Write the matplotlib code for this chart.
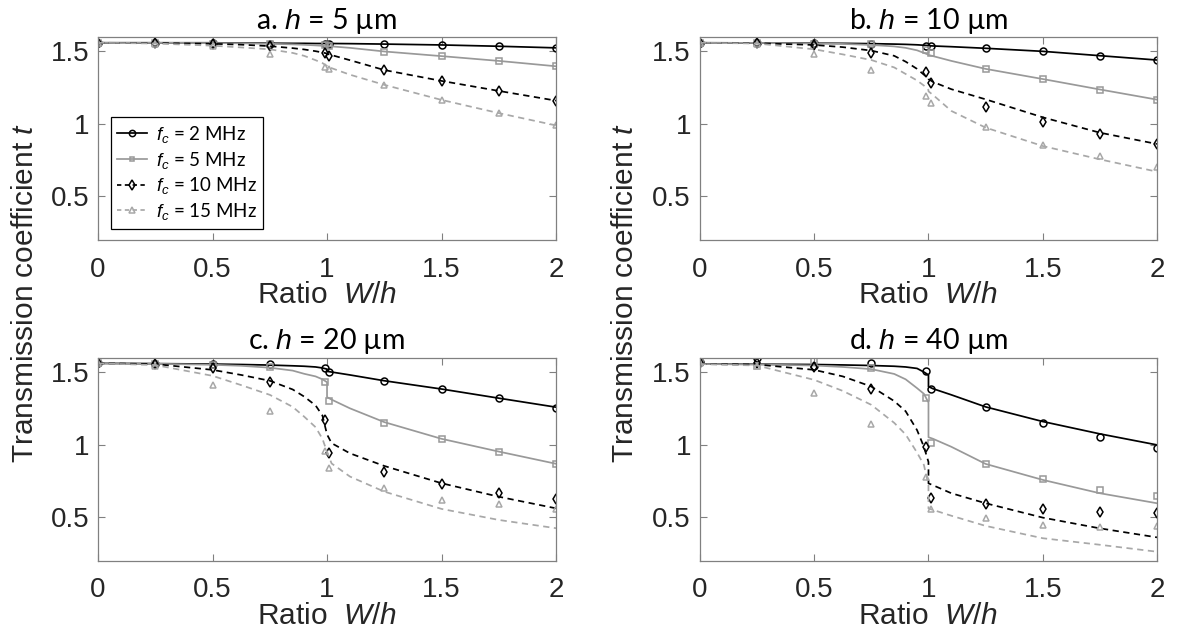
import numpy as np
import matplotlib
matplotlib.use('Agg')
import matplotlib.pyplot as plt
from matplotlib.lines import Line2D

plt.rcParams['font.family'] = ['Liberation Sans', 'DejaVu Sans']
plt.rcParams['mathtext.fontset'] = 'custom'
plt.rcParams['mathtext.it'] = 'Liberation Sans:italic'
plt.rcParams['mathtext.rm'] = 'Liberation Sans'

# x grid of the model curves (1.0 twice: left / right of the step)
model_x = [0, 0.25, 0.5, 0.625, 0.75, 0.85, 0.9, 0.95, 0.98, 1.0, 1.0, 1.02, 1.1, 1.25, 1.5, 1.75, 2.0]
# x of the measured points
data_x = [0, 0.25, 0.5, 0.75, 0.99, 1.01, 1.25, 1.5, 1.75, 2.0]

freqs = ['2', '5', '10', '15']
titles = ['a. $h$ = 5 µm', 'b. $h$ = 10 µm', 'c. $h$ = 20 µm', 'd. $h$ = 40 µm']

# panel a, h = 5 um
model_a = [
    [1.56, 1.56, 1.56, 1.558, 1.557, 1.556, 1.556, 1.555, 1.555, 1.555, 1.555, 1.555, 1.554, 1.551, 1.545, 1.536, 1.525],
    [1.56, 1.56, 1.558, 1.556, 1.553, 1.549, 1.546, 1.542, 1.539, 1.537, 1.537, 1.535, 1.525, 1.50, 1.468, 1.435, 1.398],
    [1.56, 1.558, 1.553, 1.547, 1.537, 1.523, 1.514, 1.502, 1.493, 1.486, 1.484, 1.475, 1.44, 1.372, 1.297, 1.228, 1.161],
    [1.56, 1.555, 1.54, 1.528, 1.515, 1.49, 1.47, 1.44, 1.42, 1.40, 1.395, 1.385, 1.34, 1.27, 1.166, 1.075, 0.99],
]
data_a = [
    [1.56, 1.56, 1.56, 1.555, 1.555, 1.555, 1.552, 1.547, 1.536, 1.526],
    [1.56, 1.56, 1.555, 1.55, 1.545, 1.54, 1.499, 1.469, 1.437, 1.398],
    [1.56, 1.558, 1.555, 1.540, 1.487, 1.471, 1.372, 1.299, 1.230, 1.161],
    [1.56, 1.555, 1.54, 1.483, 1.395, 1.379, 1.269, 1.166, 1.074, 0.991],
]

# panel b, h = 10 um
model_b = [
    [1.56, 1.559, 1.557, 1.556, 1.554, 1.551, 1.549, 1.546, 1.543, 1.541, 1.540, 1.538, 1.533, 1.522, 1.501, 1.471, 1.441],
    [1.56, 1.559, 1.555, 1.552, 1.545, 1.535, 1.525, 1.508, 1.49, 1.478, 1.476, 1.468, 1.435, 1.38, 1.31, 1.238, 1.168],
    [1.56, 1.557, 1.545, 1.53, 1.506, 1.47, 1.43, 1.38, 1.34, 1.315, 1.31, 1.29, 1.24, 1.17, 1.046, 0.94, 0.862],
    [1.56, 1.555, 1.515, 1.48, 1.441, 1.39, 1.345, 1.30, 1.265, 1.234, 1.225, 1.20, 1.09, 0.975, 0.848, 0.756, 0.671],
]
data_b = [
    [1.56, 1.558, 1.556, 1.553, 1.540, 1.540, 1.522, 1.501, 1.471, 1.441],
    [1.56, 1.557, 1.555, 1.550, 1.51, 1.487, 1.379, 1.310, 1.237, 1.168],
    [1.56, 1.558, 1.545, 1.492, 1.359, 1.285, 1.117, 1.014, 0.931, 0.860],
    [1.56, 1.555, 1.483, 1.372, 1.191, 1.143, 0.981, 0.857, 0.779, 0.706],
]

# panel c, h = 20 um
model_c = [
    [1.56, 1.558, 1.555, 1.552, 1.548, 1.543, 1.540, 1.535, 1.528, 1.52, 1.505, 1.500, 1.48, 1.44, 1.383, 1.32, 1.258],
    [1.56, 1.557, 1.55, 1.543, 1.53, 1.51, 1.488, 1.47, 1.45, 1.43, 1.327, 1.31, 1.25, 1.155, 1.04, 0.952, 0.868],
    [1.56, 1.555, 1.515, 1.48, 1.44, 1.38, 1.331, 1.27, 1.20, 1.07, 1.07, 1.01, 0.94, 0.853, 0.734, 0.641, 0.561],
    [1.56, 1.548, 1.474, 1.41, 1.343, 1.26, 1.193, 1.12, 1.04, 0.95, 0.95, 0.87, 0.78, 0.676, 0.557, 0.481, 0.424],
]
data_c = [
    [1.56, 1.558, 1.556, 1.554, 1.531, 1.503, 1.441, 1.384, 1.32, 1.255],
    [1.56, 1.557, 1.55, 1.538, 1.434, 1.303, 1.152, 1.039, 0.950, 0.867],
    [1.56, 1.556, 1.527, 1.428, 1.170, 0.945, 0.814, 0.729, 0.665, 0.626],
    [1.56, 1.543, 1.412, 1.230, 0.959, 0.837, 0.703, 0.619, 0.591, 0.557],
]

# panel d, h = 40 um
model_d = [
    [1.555, 1.554, 1.552, 1.549, 1.545, 1.540, 1.535, 1.525, 1.50, 1.48, 1.40, 1.385, 1.343, 1.26, 1.159, 1.074, 0.998],
    [1.555, 1.552, 1.545, 1.535, 1.52, 1.487, 1.45, 1.389, 1.35, 1.29, 1.051, 1.04, 0.985, 0.867, 0.757, 0.665, 0.596],
    [1.555, 1.552, 1.515, 1.47, 1.40, 1.30, 1.23, 1.10, 0.985, 0.88, 0.733, 0.72, 0.665, 0.596, 0.497, 0.423, 0.361],
    [1.555, 1.545, 1.446, 1.37, 1.274, 1.15, 1.07, 0.945, 0.86, 0.72, 0.56, 0.55, 0.51, 0.44, 0.355, 0.31, 0.262],
]
data_d = [
    [1.57, 1.596, 1.543, 1.561, 1.508, 1.382, 1.258, 1.152, 1.053, 0.975],
    [1.58, 1.545, 1.573, 1.527, 1.320, 1.010, 0.867, 0.761, 0.688, 0.648],
    [1.56, 1.56, 1.538, 1.382, 0.982, 0.630, 0.591, 0.557, 0.538, 0.531],
    [1.56, 1.545, 1.359, 1.140, 0.777, 0.557, 0.492, 0.446, 0.435, 0.439],
]

colors = ['black', '#999999', 'black', '#a8a8a8']
styles = ['-', '-', '--', '--']
markers = ['o', 's', 'd', '^']
msizes = [5, 3.8, 5.5, 5]

txt = '#262626'
spine = '#808080'

fig = plt.figure(figsize=(11.77, 6.42), dpi=100)
positions = [
    [0.0833, 0.6262, 0.3891, 0.3162],
    [0.5947, 0.6262, 0.3883, 0.3162],
    [0.0833, 0.1266, 0.3891, 0.3165],
    [0.5947, 0.1266, 0.3883, 0.3165],
]
models = [model_a, model_b, model_c, model_d]
datas = [data_a, data_b, data_c, data_d]

for p in range(4):
    ax = fig.add_axes(positions[p])
    for k in range(4):
        ln, = ax.plot(model_x, models[p][k], color=colors[k], ls=styles[k], lw=1.25)
        if styles[k] == '--':
            ln.set_dashes((3.6, 2.6))
        ax.plot(data_x, datas[p][k], ls='none', marker=markers[k], ms=msizes[k],
                mfc='none', mec=colors[k], mew=1.1)
    ax.set_xlim(0, 2)
    ax.set_ylim(0.2, 1.6)
    ax.set_xticks([0, 0.5, 1, 1.5, 2])
    ax.set_xticklabels(['0', '0.5', '1', '1.5', '2'])
    ax.set_yticks([0.5, 1, 1.5])
    ax.set_yticklabels(['0.5', '1', '1.5'])
    ax.tick_params(direction='in', top=True, right=True, length=5, width=0.8,
                   color=spine, labelcolor=txt, labelsize=20)
    ax.tick_params(axis='x', pad=12)
    ax.tick_params(axis='y', pad=6.5)
    for s in ax.spines.values():
        s.set_color(spine)
        s.set_linewidth(0.9)
    ax.set_xlabel('Ratio  $W/h$', fontsize=21.5, color=txt, labelpad=-1)
    ax.set_title(titles[p], fontsize=20.5, family=['Lato', 'DejaVu Sans'], pad=6)

    if p == 0:
        handles = []
        for k in range(4):
            h = Line2D([], [], color=colors[k], ls=styles[k], lw=1.25, marker=markers[k],
                       ms=msizes[k] - 0.5, mfc='none', mec=colors[k], mew=1.1)
            if styles[k] == '--':
                h.set_dashes((2.5, 2.0))
            handles.append(h)
        labels = ['$f_c$ = ' + f + ' MHz' for f in freqs]
        leg = ax.legend(handles, labels, loc='upper left', bbox_to_anchor=(0.028, 0.604),
                        borderaxespad=0, handlelength=1.6, handletextpad=0.45,
                        labelspacing=0.25, borderpad=0.35, fancybox=False, framealpha=1,
                        prop={'family': ['Lato', 'DejaVu Sans'], 'size': 13.5})
        leg.get_frame().set_edgecolor('black')
        leg.get_frame().set_linewidth(0.9)

for xc in [0.0212, 0.531]:
    fig.text(xc, 0.544, 'Transmission coefficient $t$', rotation=90, ha='center', va='center',
             fontsize=21.5, color=txt)

plt.savefig('out.png', dpi=100)
